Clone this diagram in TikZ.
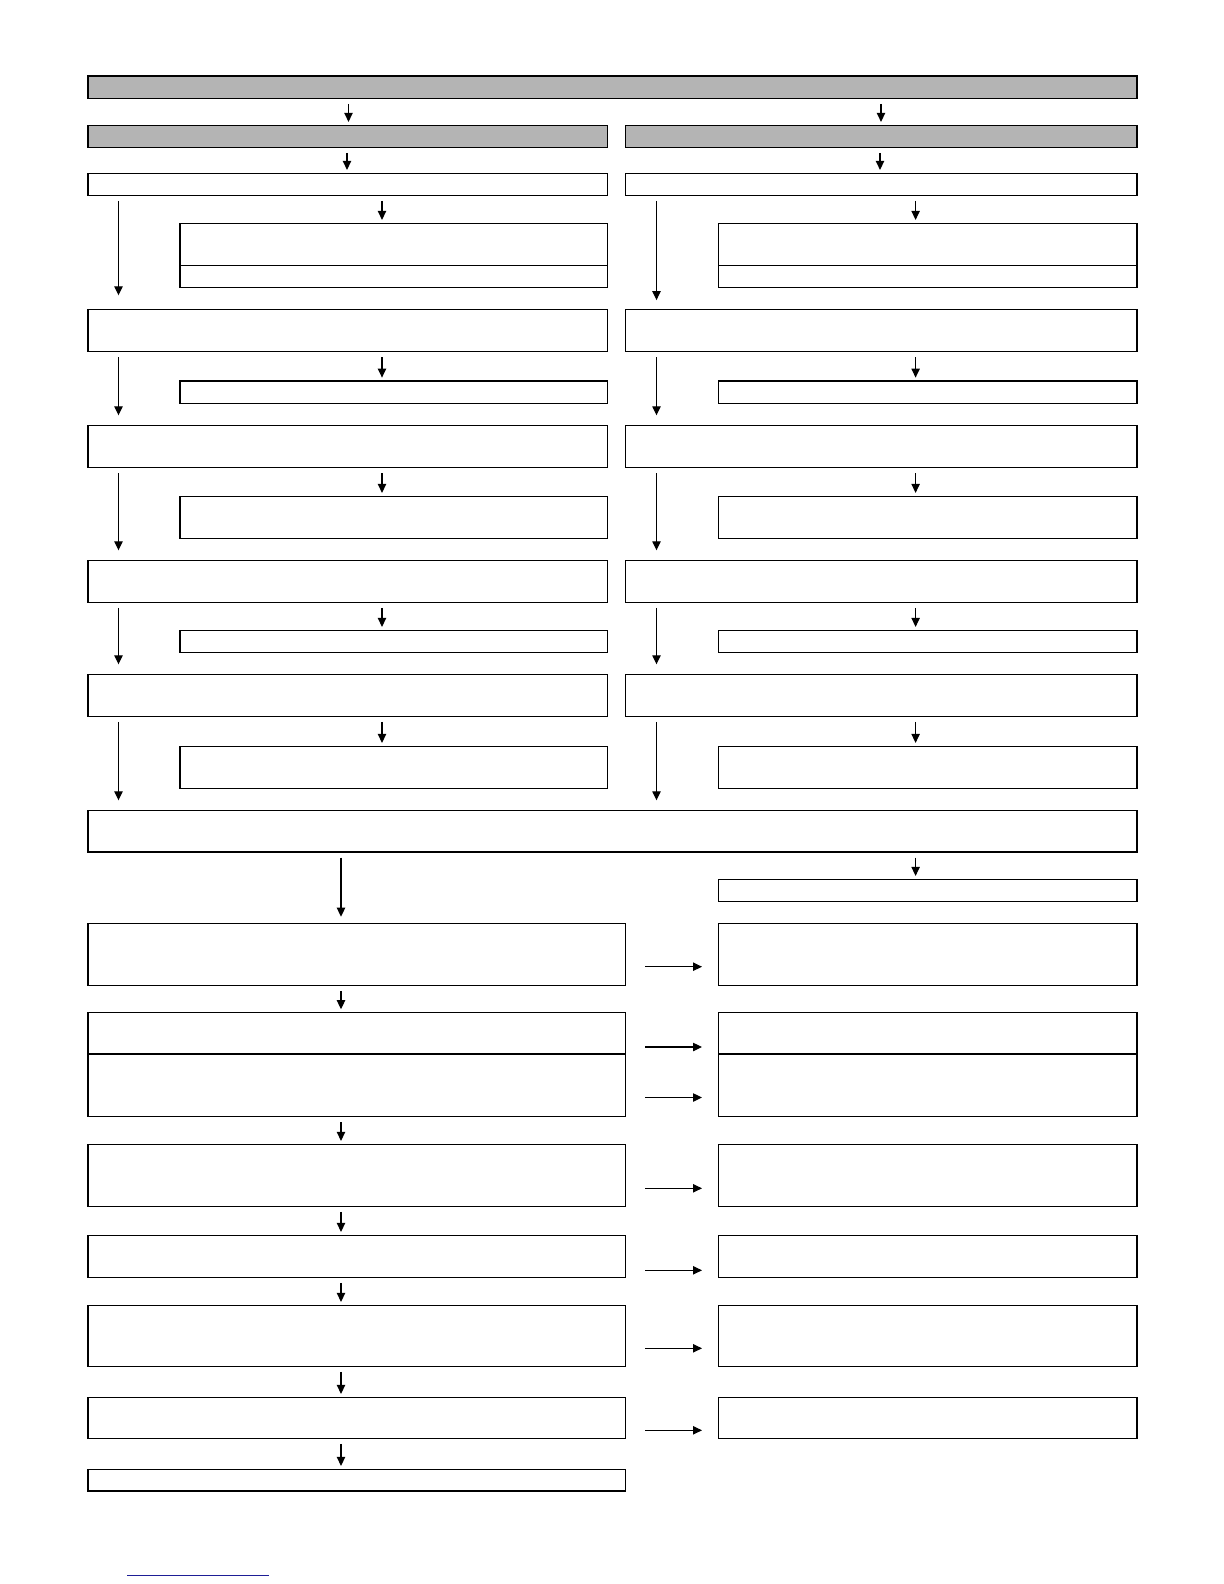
\documentclass[tikz,border=0pt]{standalone}
\usetikzlibrary{arrows.meta,fit}
\definecolor{hdr}{RGB}{180,180,180}
\definecolor{lnk}{RGB}{30,30,150}
\newcommand\bx[6][]{\node[boxst,#1,fit={(#3,#4) (#5,#6)}] (#2) {};}
\begin{document}
\begin{tikzpicture}[x=0.5pt,y=-0.5pt,
  boxst/.style={draw=black,line width=0.7pt,inner sep=0pt,outer sep=0pt,fill=white},
  grayst/.style={fill=hdr},
  arr/.style={draw=black,line width=0.55pt,-{Triangle[length=4.5pt,width=4.2pt]},shorten <=2.8pt,shorten >=1.7pt},
  longarr/.style={arr,shorten >=5pt},
  harr/.style={arr,shorten <=9.75pt,shorten >=8.25pt}]
\useasboundingbox (0,0) rectangle (1224,1584);
% x positions
\coordinate (xA) at (348.5,0);
\coordinate (xB) at (881,0);
\coordinate (xC) at (347,0);
\coordinate (xD) at (880,0);
\coordinate (xSL) at (382,0);
\coordinate (xSR) at (915.6,0);
\coordinate (xLL) at (118.5,0);
\coordinate (xLR) at (656.5,0);
\coordinate (xM) at (341,0);
% upper section boxes
\bx[grayst]{top}{88}{76}{1137}{98.3}
\bx[grayst]{h1L}{88}{125.3}{607.5}{147.3}
\bx[grayst]{h1R}{625.5}{125.3}{1137}{147.3}
\bx{r3L}{88}{173.3}{607.5}{195.3}
\bx{r3R}{625.5}{173.3}{1137}{195.3}
\bx{s1aL}{180}{223.3}{607.5}{265.3}
\bx{s1bL}{180}{265.3}{607.5}{287.3}
\bx{s1aR}{718.5}{223.3}{1137}{265.3}
\bx{s1bR}{718.5}{265.3}{1137}{287.3}
\bx{r4L}{88}{309.3}{607.5}{351.5}
\bx{r4R}{625.5}{309.3}{1137}{351.5}
\bx{s2L}{180}{381}{607.5}{403.3}
\bx{s2R}{718.5}{381}{1137}{403.3}
\bx{r5L}{88}{425.3}{607.5}{467.5}
\bx{r5R}{625.5}{425.3}{1137}{467.5}
\bx{s3L}{180}{496.3}{607.5}{538.3}
\bx{s3R}{718.5}{496.3}{1137}{538.3}
\bx{r6L}{88}{560.3}{607.5}{602.3}
\bx{r6R}{625.5}{560.3}{1137}{602.3}
\bx{s4L}{180}{630.3}{607.5}{652.3}
\bx{s4R}{718.5}{630.3}{1137}{652.3}
\bx{r7L}{88}{674.3}{607.5}{716.3}
\bx{r7R}{625.5}{674.3}{1137}{716.3}
\bx{s5L}{180}{746.3}{607.5}{788.3}
\bx{s5R}{718.5}{746.3}{1137}{788.3}
\bx{wide}{88}{810.3}{1137}{852}
% lower section boxes
\bx{sm}{718.5}{879.3}{1137}{901.3}
\bx{LA}{88}{923.3}{625.5}{985.3}
\bx{RA}{718.5}{923.3}{1137}{985.3}
\bx{LB1}{88}{1012.6}{625.5}{1054}
\bx{LB2}{88}{1054}{625.5}{1116.7}
\bx{RB1}{718.5}{1012.6}{1137}{1054}
\bx{RB2}{718.5}{1054}{1137}{1116.7}
\bx{LC}{88}{1144.3}{625.5}{1206.3}
\bx{RC}{718.5}{1144.3}{1137}{1206.3}
\bx{LD}{88}{1235.3}{625.5}{1277.3}
\bx{RD}{718.5}{1235.3}{1137}{1277.3}
\bx{LE}{88}{1305.3}{625.5}{1366.3}
\bx{RE}{718.5}{1305.3}{1137}{1366.3}
\bx{LF}{88}{1397.3}{625.5}{1438.3}
\bx{RF}{718.5}{1397.3}{1137}{1438.3}
\bx{LG}{88}{1469.3}{625.5}{1491}
% upper arrows
\draw[arr] (top.south -| xA) -- (h1L.north -| xA);
\draw[arr] (top.south -| xB) -- (h1R.north -| xB);
\draw[arr] (h1L.south -| xC) -- (r3L.north -| xC);
\draw[arr] (h1R.south -| xD) -- (r3R.north -| xD);
\foreach \a/\b in {r3L/s1aL,r4L/s2L,r5L/s3L,r6L/s4L,r7L/s5L}
  \draw[arr] (\a.south -| xSL) -- (\b.north -| xSL);
\foreach \a/\b in {r3R/s1aR,r4R/s2R,r5R/s3R,r6R/s4R,r7R/s5R}
  \draw[arr] (\a.south -| xSR) -- (\b.north -| xSR);
\draw[longarr,shorten >=7pt] (r3L.south -| xLL) -- (r4L.north -| xLL);
\draw[longarr,shorten >=4.6pt] (r3R.south -| xLR) -- (r4R.north -| xLR);
\foreach \a/\b in {r4L/r5L,r5L/r6L,r6L/r7L,r7L/wide}
  \draw[longarr] (\a.south -| xLL) -- (\b.north -| xLL);
\foreach \a/\b in {r4R/r5R,r5R/r6R,r6R/r7R,r7R/wide}
  \draw[longarr] (\a.south -| xLR) -- (\b.north -| xLR);
% lower arrows
\draw[arr,shorten >=3.3pt] (wide.south -| xM) -- (LA.north -| xM);
\draw[arr] (wide.south -| xSR) -- (sm.north -| xSR);
\foreach \a/\b in {LA/LB1,LB2/LC,LC/LD,LD/LE,LE/LF,LF/LG}
  \draw[arr] (\a.south -| xM) -- (\b.north -| xM);
% horizontal arrows
\coordinate (yA) at (0,966.7);
\coordinate (yB1) at (0,1047);
\coordinate (yB2) at (0,1097.5);
\coordinate (yC) at (0,1188.3);
\coordinate (yD) at (0,1270.3);
\coordinate (yE) at (0,1348.3);
\coordinate (yF) at (0,1430.3);
\draw[harr] (LA.east |- yA) -- (RA.west |- yA);
\draw[harr] (LB1.east |- yB1) -- (RB1.west |- yB1);
\draw[harr] (LB2.east |- yB2) -- (RB2.west |- yB2);
\draw[harr] (LC.east |- yC) -- (RC.west |- yC);
\draw[harr] (LD.east |- yD) -- (RD.west |- yD);
\draw[harr] (LE.east |- yE) -- (RE.west |- yE);
\draw[harr] (LF.east |- yF) -- (RF.west |- yF);
% blue rule at the foot of the page
\draw[lnk,line width=0.6pt] (127,1575.3) -- (269,1575.3);
\end{tikzpicture}
\end{document}
